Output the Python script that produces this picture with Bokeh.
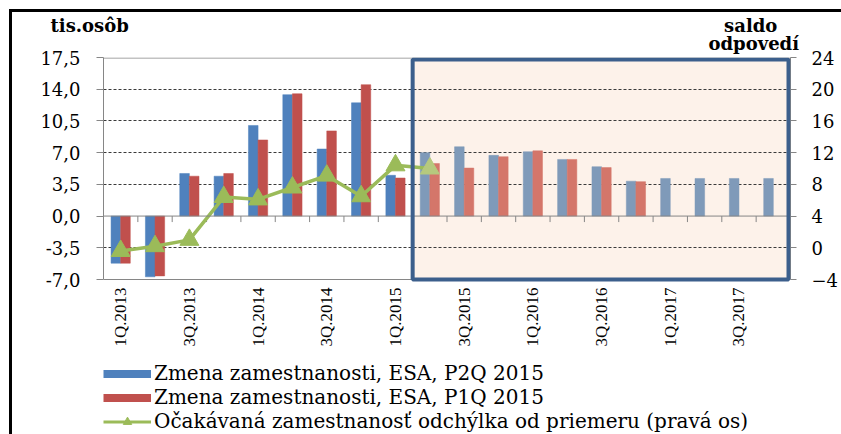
import math
from bokeh.plotting import figure
from bokeh.core.properties import value
from bokeh.models import (Range1d, LinearAxis, FixedTicker, CustomJSTickFormatter, Title,
                          BoxAnnotation, Span, Legend, LegendItem, ColumnDataSource)
from bokeh.embed import file_html
from bokeh.resources import INLINE

nan = float("nan")

# ---------------- data ----------------
quarters = ["1Q.2013", "2Q.2013", "3Q.2013", "4Q.2013",
            "1Q.2014", "2Q.2014", "3Q.2014", "4Q.2014",
            "1Q.2015", "2Q.2015", "3Q.2015", "4Q.2015",
            "1Q.2016", "2Q.2016", "3Q.2016", "4Q.2016",
            "1Q.2017", "2Q.2017", "3Q.2017", "4Q.2017"]
# Zmena zamestnanosti, ESA, P2Q 2015 (tis. osôb)
employment_p2q = [-5.2, -6.7, 4.7, 4.4, 10.0, 13.4, 7.4, 12.5, 4.5,
                  7.0, 7.65, 6.7, 7.1, 6.25, 5.45, 3.85, 4.15, 4.15, 4.15, 4.15]
# Zmena zamestnanosti, ESA, P1Q 2015 (tis. osôb)
employment_p1q = [-5.2, -6.6, 4.4, 4.7, 8.4, 13.5, 9.4, 14.5, 4.2,
                  5.8, 5.3, 6.55, 7.2, 6.25, 5.35, 3.8, nan, nan, nan, nan]
# Očakávaná zamestnanosť odchýlka od priemeru (pravá os), saldo odpovedí
expected_dev = [-0.4, 0.2, 1.0, 6.4, 6.1, 7.6, 9.1, 6.5, 10.4, 10.0,
                nan, nan, nan, nan, nan, nan, nan, nan, nan, nan]
forecast_start = 9          # first forecast quarter: 2Q.2015
left_ticks = [-7.0, -3.5, 0.0, 3.5, 7.0, 10.5, 14.0, 17.5]
right_ticks = [-4, 0, 4, 8, 12, 16, 20, 24]

left_unit = "tis.osôb"
right_unit = ["saldo", "odpovedí"]
legend_labels = ["Zmena zamestnanosti, ESA, P2Q 2015",
                 "Zmena zamestnanosti, ESA, P1Q 2015",
                 "Očakávaná zamestnanosť odchýlka od priemeru (pravá os)"]

# ---------------- styles ----------------
BLUE, BLUE_F = "#4f81bd", "#7f9ab9"
RED, RED_F = "#c0504d", "#d4766a"
GREEN, GREEN_F = "#9bbb59", "#b6c97e"
PEACH = "#fdf2ea"
BOX = "#3c5f8c"
GRAY = "#868686"
SERIF = "DejaVu Serif"
NBSP = "\u00a0"

W, H = 841, 434
FL, FT, FW, PH = 103, 57, 689, 222   # plot-area left/top/width/height in pixels
FH = H - FT                          # frame reaches the bottom (room for labels + legend)

n = len(quarters)
xs = list(range(n))
is_fc = [i >= forecast_start for i in xs]

x0, x1 = -0.5, n - 0.5
y0, y1 = left_ticks[0], left_ticks[-1]
r0, r1 = right_ticks[0], right_ticks[-1]
dx_px = (x1 - x0) / FW
dy_px = (y1 - y0) / PH
dr_px = (r1 - r0) / PH

src = ColumnDataSource(dict(
    x=xs,
    xb=[x - 0.14 for x in xs],
    xr=[x + 0.14 for x in xs],
    p2q=employment_p2q,
    p1q=employment_p1q,
    dev=expected_dev,
    cb=[BLUE_F if f else BLUE for f in is_fc],
    cr=[RED_F if f else RED for f in is_fc],
    cg=[GREEN_F if f else GREEN for f in is_fc],
))

p = figure(width=W, height=H, output_backend="svg", toolbar_location=None,
           x_range=Range1d(x0, x1),
           y_range=Range1d(y1 - FH * dy_px, y1),
           min_border_left=FL, min_border_right=W - FL - FW,
           min_border_top=FT, min_border_bottom=0)
p.extra_y_ranges = {"right": Range1d(r1 - FH * dr_px, r1)}

# outer chart frame: black left and top edges (painted behind a transparent border area)
p.styles = {"background": "linear-gradient(#000,#000) 9px 9px / 3px 100% no-repeat, "
                          "linear-gradient(#000,#000) 9px 9px / 100% 3px no-repeat, #ffffff"}
p.border_fill_alpha = 0
p.background_fill_color = "white"
p.outline_line_color = None
p.xgrid.visible = False
p.xaxis.visible = False
p.ygrid.ticker = FixedTicker(ticks=[t for t in left_ticks[1:-1] if t != 0])
p.ygrid.grid_line_color = "#3a3a3a"
p.ygrid.grid_line_dash = "3 2"
p.ygrid.grid_line_width = 1

# forecast area fill (below grid)
box_fill = BoxAnnotation(left=forecast_start - 0.5, right=x1, bottom=y0, top=y1,
                         fill_color=PEACH, fill_alpha=1.0, line_alpha=0, level="underlay")
p.center = [box_fill] + list(p.center)

# plot-area border (top and bottom edges)
p.add_layout(Span(location=y1 - 0.5 * dy_px, dimension="width", line_color=GRAY, line_width=1))
p.add_layout(Span(location=y0, dimension="width", line_color=GRAY, line_width=1))

# left axis
ya = p.yaxis[0]
ya.ticker = FixedTicker(ticks=left_ticks)
ya.bounds = (y0, y1)
ya.formatter = CustomJSTickFormatter(code="return tick.toFixed(1).replace('.', ',');")
ya.axis_line_color = GRAY
ya.major_tick_line_color = GRAY
ya.major_tick_out = 7
ya.major_tick_in = 0
ya.minor_tick_line_color = None
ya.major_label_standoff = 16
ya.major_label_text_font = SERIF
ya.major_label_text_font_size = "18px"
ya.major_label_text_color = "black"

# right axis
ra = LinearAxis(y_range_name="right", ticker=FixedTicker(ticks=right_ticks), bounds=(r0, r1))
ra.axis_line_color = GRAY
ra.major_tick_line_color = GRAY
ra.major_tick_out = 6
ra.major_tick_in = 0
ra.minor_tick_line_color = None
ra.major_label_standoff = 15
ra.major_label_text_font = SERIF
ra.major_label_text_font_size = "18px"
ra.major_label_text_color = "black"
p.add_layout(ra, "right")

# bars
p.vbar(x="xb", top="p2q", width=0.28, source=src, fill_color="cb", line_color="cb", line_width=0.5)
p.vbar(x="xr", top="p1q", width=0.28, source=src, fill_color="cr", line_color="cr", line_width=0.5)

# zero line with category tick marks
p.add_layout(Span(location=0, dimension="width", line_color=GRAY, line_width=1))
bounds = [x + 0.5 for x in xs[:-1]]
p.segment(x0=bounds, y0=[0] * len(bounds), x1=bounds, y1=[-6 * dy_px] * len(bounds),
          line_color=GRAY, line_width=1)

# category labels (every second quarter), rotated, under the plot area
lab_x = xs[::2]
p.text(x=lab_x, y=[y0 - 8 * dy_px] * len(lab_x), text=[quarters[i] for i in lab_x],
       angle=math.pi / 2, text_align="right", text_baseline="middle",
       text_font=value("Liberation Serif"), text_font_size="17px", text_color="black")

# expectation line (right axis)
p.line(x="x", y="dev", source=src, y_range_name="right", line_color=GREEN, line_width=3.5)
p.scatter(x="x", y="dev", source=src, y_range_name="right", marker="triangle",
          size=19, fill_color="cg", line_color="cg")

# forecast box border (inset so the full line width stays inside the plot area)
p.add_layout(BoxAnnotation(left=forecast_start - 0.5, right=x1 - 2 * dx_px,
                           bottom=y0, top=y1 - 2 * dy_px,
                           fill_alpha=0, line_color=BOX, line_alpha=1.0, line_width=4,
                           level="overlay"))

# axis unit titles (two lines, placed above the frame)
line1 = left_unit + NBSP * 95 + right_unit[0]
line2 = NBSP * 105 + right_unit[1]
p.add_layout(Title(text=line1 + "\n" + line2, align="left", offset=-53,
                   vertical_align="bottom", standoff=6,
                   text_font=SERIF, text_font_style="bold", text_font_size="18px",
                   text_line_height=0.9, text_color="black"), "above")

# legend swatches (invisible single-point renderers used only for the legend)
lb = p.line(x=[nan], y=[nan], line_color=BLUE, line_width=8)
lr = p.line(x=[nan], y=[nan], line_color=RED, line_width=8)
lgl = p.line(x=[nan], y=[nan], line_color=GREEN, line_width=3)
lgs = p.scatter(x=[nan], y=[nan], marker="triangle", size=15, fill_color=GREEN, line_color=GREEN)
legend = Legend(items=[LegendItem(label=legend_labels[0], renderers=[lb]),
                       LegendItem(label=legend_labels[1], renderers=[lr]),
                       LegendItem(label=legend_labels[2], renderers=[lgl, lgs])],
                location=(0, 1), orientation="vertical")
legend.background_fill_alpha = 0
legend.border_line_alpha = 0
legend.padding = 0
legend.margin = 0
legend.spacing = 0
legend.label_height = 21
legend.glyph_height = 21
legend.glyph_width = 48
legend.label_standoff = 3
legend.label_text_font = SERIF
legend.label_text_font_size = "20px"
legend.label_text_color = "black"
p.add_layout(legend)

open("out.html", "w").write(file_html(p, INLINE))
